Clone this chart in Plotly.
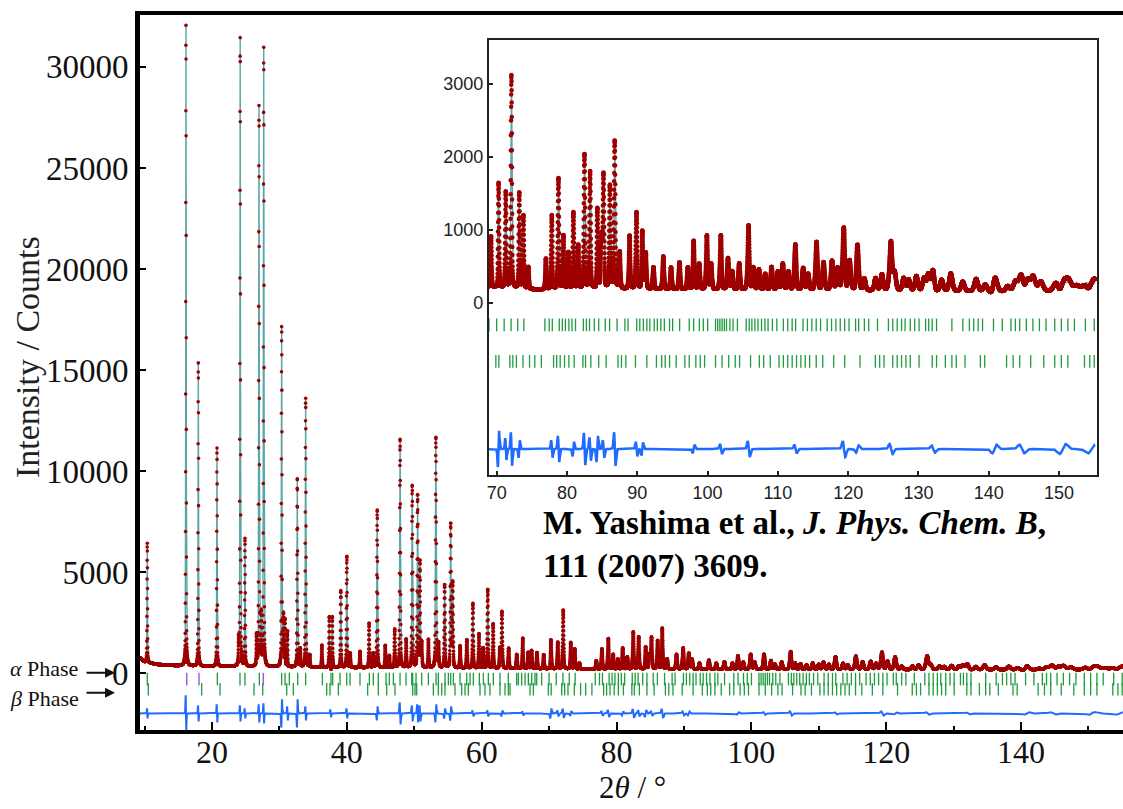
import numpy as np
import plotly.graph_objects as go

# ---------------- data ----------------
# reflection positions (2theta, deg) and net heights above background (counts)
peak_pos = [10.40, 16.14, 17.97, 20.74, 23.95, 24.18, 24.89, 26.60, 26.97, 27.30, 27.67,
            30.33, 30.60, 30.83, 31.20, 32.65, 33.10, 33.89, 34.50, 36.30, 37.40, 37.85,
            39.10, 40.00, 40.50, 41.95, 43.30, 43.90, 44.50, 45.70, 46.30, 47.10, 47.90,
            48.80, 49.70, 50.50, 50.85, 51.10, 52.10, 53.20, 53.60, 54.50, 55.40, 55.70,
            56.80, 57.80, 58.70, 59.60, 60.20, 60.90, 61.70, 62.70, 63.00, 64.00, 65.20,
            66.10, 66.90, 67.40, 68.20,
            69.2, 70.25, 71.3, 72.1, 73.2, 73.8, 74.5, 77.0, 77.85, 78.8, 79.5, 80.2, 80.9,
            81.6, 82.5, 83.3, 84.3, 84.9, 85.2, 86.1, 86.8, 87.5, 88.9, 89.9, 90.7, 91.2,
            92.3, 93.7, 94.8, 96.0, 97.2, 98.0, 98.8, 99.9, 100.5, 101.9, 102.9, 103.5,
            104.5, 105.85, 106.5, 107.3, 108.2, 109.1, 110.0, 110.7, 111.5, 112.5, 113.6,
            114.3, 115.5, 116.5, 117.7, 118.5, 119.4, 120.2, 121.3, 122.3, 123.9, 124.8,
            126.1, 126.6, 127.9, 128.6, 129.7, 130.8, 131.4, 132.1, 133.3, 134.6, 136.3,
            138.2, 139.5, 140.8, 142.7, 143.8, 144.7, 145.5, 146.3, 147.4, 149.6, 150.5,
            151.4, 152.5, 153.7, 154.6, 155.1]
peak_height = [5900, 31700, 15000, 10800, 1200, 31100, 6300, 1500, 27700, 2500, 30600,
               16800, 2500, 2300, 1700, 9300, 900, 13300, 600, 1100, 2500, 2500,
               3800, 5500, 700, 800, 2200, 700, 7800, 1100, 600, 1900, 11300,
               1400, 9000, 8500, 5200, 1200, 1400, 11400, 1200, 4100, 7100, 4200,
               1100, 1400, 3200, 1700, 1000, 3900, 2200, 1000, 2800, 1000, 700,
               1500, 800, 900, 800,
               700, 1400, 1300, 2900, 1300, 1000, 300, 420, 1000, 1500, 730, 500, 1040,
               600, 1820, 1590, 1070, 700, 1550, 1410, 2000, 500, 730, 1040, 780, 490,
               300, 450, 300, 370, 300, 660, 350, 740, 350, 740, 430, 250,
               360, 870, 300, 280, 220, 315, 250, 360, 250, 620, 300,
               220, 660, 380, 400, 300, 840, 400, 620, 160, 170, 220,
               660, 250, 170, 150, 200, 170, 220, 270, 150, 240, 130,
               170, 90, 170, 70, 130, 200, 160, 200, 130, 130, 90,
               130, 70, 100, 60, 70]

# background level (2theta, counts)
bg_pos = [9.32, 10.0, 12.0, 15.0, 20.0, 30.0, 40.0, 55.0, 68.0, 76.0, 90.0, 110.0, 130.0, 145.0, 155.12]
bg_counts = [750, 550, 420, 360, 330, 300, 270, 240, 210, 180, 185, 170, 160, 150, 160]

# misfit (obs - calc) features: position and lobe amplitude (counts)
resid_pos = [10.40, 16.14, 17.97, 20.74, 24.18, 24.89, 26.97, 27.67, 30.33, 31.20, 32.65,
             33.89, 37.60, 40.00, 44.50, 47.90, 49.70, 50.50, 50.85, 53.20, 54.50, 55.40,
             58.70, 60.90, 63.00, 66.10, 70.25, 71.3, 72.1, 73.2, 77.85, 78.8, 80.9, 82.5,
             83.3, 84.3, 85.2, 86.8, 89.9, 90.7, 98.0, 101.9, 105.85, 112.5, 119.4, 121.3,
             126.1, 132.1, 140.8, 144.7, 150.5, 154.6]
resid_amp = [250, 900, 400, 450, 400, 250, 450, 500, -700, 350, -700,
             350, 200, 250, -350, 550, 400, 450, 400, -450, -250, -350,
             150, 150, -150, 100, -250, 150, 230, -120, 120, 180, -100, 220,
             160, -180, 120, 230, 100, -90, -60, 70, 110, 60, 110, -50,
             70, 50, -60, 60, -70, -60]

# reflection markers
alpha_ticks = [10.40, 20.79, 24.15, 24.89, 27.02, 30.33, 30.83, 31.47, 32.71, 33.89, 36.37,
               37.65, 37.90, 38.99, 39.98, 40.47, 41.95, 43.34, 43.93, 44.67, 45.81, 46.30,
               46.90, 47.89, 48.78, 49.62, 49.77, 50.26, 51.10, 52.09, 53.23, 53.57, 54.56,
               55.06, 55.41, 55.80, 56.79, 57.78, 58.27, 58.76, 59.65, 60.25, 60.99, 61.73,
               62.72, 63.95, 65.19, 65.44, 65.93, 66.43, 66.92, 67.42, 67.91, 68.16, 68.90,
               70.00, 71.06, 72.05, 72.99, 73.86, 76.85, 77.47, 77.91, 78.90, 79.34, 79.77,
               80.27, 80.71, 81.21, 82.33, 82.76, 83.20, 83.88, 84.51, 85.44, 86.06, 87.12,
               88.24, 88.68, 89.92, 90.36, 90.86, 91.36, 91.79, 92.41, 92.85, 93.35, 93.85,
               94.59, 95.03, 96.02, 97.39, 98.02, 98.83, 99.39, 100.01, 101.13, 101.44,
               101.75, 102.06, 102.38, 102.69, 103.18, 103.62, 104.24, 105.49, 105.92,
               106.30, 106.73, 107.17, 107.67, 108.16, 108.60, 109.22, 109.85, 110.78,
               111.40, 112.03, 112.52, 113.58, 114.20, 114.83, 115.45, 116.07, 117.01,
               117.63, 118.25, 118.87, 119.50, 120.12, 121.05, 121.49, 122.30, 122.92,
               124.17, 125.72, 126.34, 126.97, 127.59, 128.09, 128.83, 129.46, 130.08,
               131.01, 131.45, 131.95, 132.57, 134.75, 136.31, 137.24, 137.86, 138.49,
               139.11, 140.67, 141.91, 143.16, 143.78, 144.40, 145.34, 146.27, 147.20,
               148.14, 149.38, 150.32, 151.25, 152.18, 153.74, 155.0]
extra_ticks = [16.25, 18.07, 27.61]
beta_ticks = [10.55, 18.47, 21.19, 26.23, 27.52, 31.08, 32.06, 37.01, 37.50, 38.74, 43.09,
              44.67, 45.91, 47.14, 49.77, 50.11, 50.36, 52.83, 53.57, 54.07, 54.56, 56.04,
              57.03, 57.53, 58.02, 59.75, 60.49, 61.23, 62.72, 63.46, 63.95, 64.20, 67.17,
              67.66, 69.88, 70.31, 71.87, 72.30, 72.80, 73.74, 74.67, 75.42, 76.35, 78.09,
              78.53, 79.03, 79.65, 80.27, 81.02, 82.27, 82.64, 83.39, 84.51, 85.57, 87.25,
              87.75, 88.37, 89.74, 91.36, 92.72, 93.47, 93.97, 94.59, 95.53, 96.77, 97.39,
              98.33, 98.95, 99.57, 101.13, 102.06, 103.00, 103.93, 104.55, 106.11, 107.36,
              107.98, 108.91, 110.16, 110.78, 111.40, 112.03, 112.65, 113.27, 113.89,
              114.52, 115.45, 116.38, 117.94, 119.50, 121.68, 123.86, 124.48, 125.10,
              126.34, 126.97, 127.59, 128.21, 128.83, 130.08, 131.95, 132.57, 133.82,
              134.75, 135.37, 136.62, 138.80, 139.42, 142.53, 143.47, 144.40, 145.96,
              147.82, 149.38, 150.32, 151.25, 153.61, 154.36, 155.0]

main_x_ticks = [20, 40, 60, 80, 100, 120, 140]
main_x_minor = [10, 30, 50, 70, 90, 110, 130, 150]
main_y_ticks = [0, 5000, 10000, 15000, 20000, 25000, 30000]
inset_x_ticks = [70, 80, 90, 100, 110, 120, 130, 140, 150]
inset_y_ticks = [0, 1000, 2000, 3000]

# ---------------- profile built from the read reflections ----------------
ALPHA_OFF, BETA_OFF, DIFF_OFF = -300, -800, -2000
tt = np.arange(9.32, 155.12, 0.01)


def fwhm(t):
    return 0.07 + 0.16 * np.tan(np.radians(np.asarray(t) / 2.0)) ** 1.2


calc = np.interp(tt, bg_pos, bg_counts).astype(float)
for p, h in zip(peak_pos, peak_height):
    w = fwhm(p)
    u = (tt - p) / w
    calc += h * (0.7 * np.exp(-4 * np.log(2) * u ** 2) + 0.3 / (1 + 4 * u ** 2))

diff = np.zeros_like(tt)
for p, a in zip(resid_pos, resid_amp):
    s = fwhm(p) / 2.0
    v = (tt - p) / s
    diff += a * (-v) * np.exp(-v ** 2 / 2) * np.exp(0.5)

obs = calc + diff

OBS_C = "#9E0000"
CALC_C = "#5AA5A5"
TICK_C = "#1E9B3C"
EXTRA_C = "#9A5FE0"
DIFF_C = "#1F6BFF"

fig = go.Figure()


def add_set(xa, ya, sel, msize, dwidth):
    fig.add_trace(go.Scatter(x=tt[sel], y=calc[sel], mode="lines",
                             line=dict(color=CALC_C, width=1.4), xaxis=xa, yaxis=ya,
                             hoverinfo="skip"))
    fig.add_trace(go.Scatter(x=tt[sel], y=obs[sel], mode="markers",
                             marker=dict(color=OBS_C, size=msize, line=dict(width=0)),
                             xaxis=xa, yaxis=ya, hoverinfo="skip"))
    fig.add_trace(go.Scatter(x=tt[sel], y=diff[sel] + DIFF_OFF, mode="lines",
                             line=dict(color=DIFF_C, width=dwidth), xaxis=xa, yaxis=ya,
                             hoverinfo="skip"))
    fig.add_trace(go.Scatter(x=alpha_ticks, y=[ALPHA_OFF] * len(alpha_ticks), mode="markers",
                             marker=dict(symbol="line-ns", size=9,
                                         line=dict(color=TICK_C, width=1.3)),
                             xaxis=xa, yaxis=ya, hoverinfo="skip"))
    fig.add_trace(go.Scatter(x=beta_ticks, y=[BETA_OFF] * len(beta_ticks), mode="markers",
                             marker=dict(symbol="line-ns", size=9,
                                         line=dict(color=TICK_C, width=1.3)),
                             xaxis=xa, yaxis=ya, hoverinfo="skip"))
    fig.add_trace(go.Scatter(x=extra_ticks, y=[ALPHA_OFF] * len(extra_ticks), mode="markers",
                             marker=dict(symbol="line-ns", size=9,
                                         line=dict(color=EXTRA_C, width=1.5)),
                             xaxis=xa, yaxis=ya, hoverinfo="skip"))


add_set("x", "y", np.ones_like(tt, dtype=bool), 3.6, 2.0)
add_set("x2", "y2", tt >= 68.5, 4.5, 2.5)

SERIF = "Liberation Serif, Times New Roman, serif"
NARROW = "Liberation Sans Narrow, Liberation Sans, Arial, sans-serif"

fig.update_layout(
    width=1123, height=809,
    margin=dict(l=140, r=0, t=15, b=79),
    paper_bgcolor="white", plot_bgcolor="white",
    showlegend=False,
    xaxis=dict(domain=[0, 1], range=[9.32, 155.12], tickvals=main_x_ticks,
               ticks="inside", ticklen=8, tickwidth=2, tickcolor="black",
               showline=True, linewidth=4, linecolor="black", mirror=True,
               showgrid=False, zeroline=False, ticklabelstandoff=-9,
               tickfont=dict(family=SERIF, size=32, color="#111"),
               minor=dict(tickvals=main_x_minor, ticks="inside", ticklen=4,
                          tickwidth=1.5, tickcolor="black")),
    yaxis=dict(domain=[0, 1], range=[-2820, 32570], tickvals=main_y_ticks,
               ticktext=[str(v) for v in main_y_ticks],
               ticks="inside", ticklen=6, tickwidth=2, tickcolor="black",
               showline=True, linewidth=5, linecolor="black",
               showgrid=False, zeroline=False,
               tickfont=dict(family=SERIF, size=33, color="#111")),
    xaxis2=dict(domain=[0.355, 0.9736], anchor="y2", range=[68.9, 155.4],
                tickvals=inset_x_ticks, ticks="inside", ticklen=4, tickwidth=1.5,
                tickcolor="#222", showline=True, linewidth=2, linecolor="#222",
                mirror=True, showgrid=False, zeroline=False,
                tickfont=dict(family=NARROW, size=18, color="#222")),
    yaxis2=dict(domain=[0.3566, 0.965], anchor="x2", range=[-2356, 3600],
                tickvals=inset_y_ticks, ticktext=[str(v) for v in inset_y_ticks],
                ticks="inside", ticklen=4, tickwidth=1.5,
                tickcolor="#222", showline=True, linewidth=2, linecolor="#222",
                mirror=True, showgrid=False, zeroline=False,
                tickfont=dict(family=NARROW, size=18, color="#222")),
)

ann = [
    dict(text="Intensity / Counts", textangle=-90, x=-0.1139, y=0.5217,
         xref="paper", yref="paper", xanchor="center", yanchor="middle",
         showarrow=False, font=dict(family=SERIF, size=34, color="#222")),
    dict(text="2<i>θ</i> / °", x=0.5015, y=-0.1077, xref="paper", yref="paper",
         xanchor="center", yanchor="bottom", showarrow=False,
         font=dict(family=SERIF, size=31, color="#111")),
    dict(text="<b>M. Yashima et al., <i>J. Phys. Chem. B</i>,<br>111 (2007) 3609.</b>",
         x=0.408, y=0.2587, xref="paper", yref="paper", xanchor="left",
         yanchor="middle", align="left", showarrow=False,
         font=dict(family=SERIF, size=33, color="#000")),
    dict(text="<i>α</i> Phase", x=-0.1343, y=0.0867, xref="paper", yref="paper",
         xanchor="left", yanchor="middle", showarrow=False,
         font=dict(family=SERIF, size=22, color="#111")),
    dict(text="<i>β</i> Phase", x=-0.1343, y=0.0447, xref="paper", yref="paper",
         xanchor="left", yanchor="middle", showarrow=False,
         font=dict(family=SERIF, size=22, color="#111")),
    dict(text="", x=-0.0254, y=0.0802, xref="paper", yref="paper",
         showarrow=True, ax=-30, ay=0, arrowhead=2, arrowsize=1, arrowwidth=2,
         arrowcolor="#111"),
    dict(text="", x=-0.0254, y=0.0522, xref="paper", yref="paper",
         showarrow=True, ax=-30, ay=0, arrowhead=2, arrowsize=1, arrowwidth=2,
         arrowcolor="#111"),
]
fig.update_layout(annotations=ann)

fig.write_html("out.html", config={"displayModeBar": False},
               post_script="document.body.style.margin='0';")
